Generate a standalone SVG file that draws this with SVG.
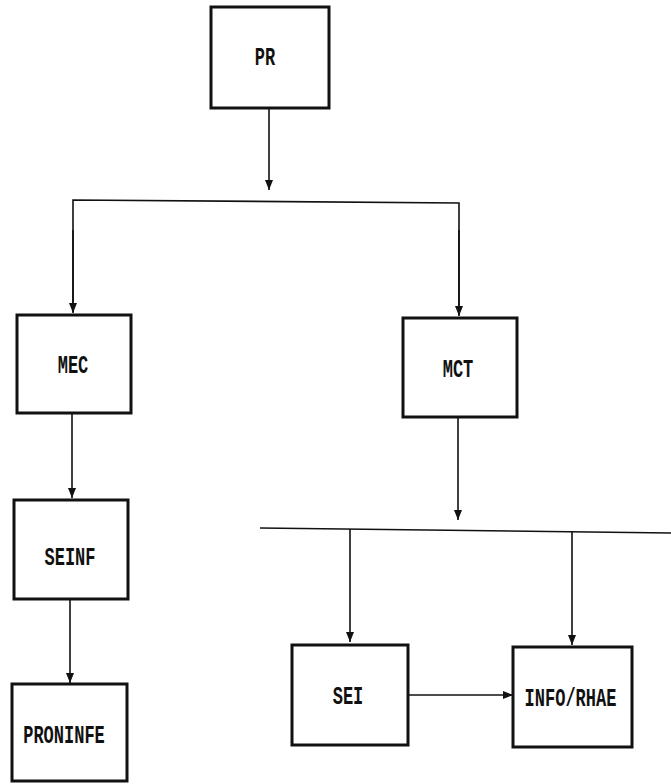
<svg xmlns="http://www.w3.org/2000/svg" width="671" height="784" viewBox="0 0 671 784">
<defs>
<style>
.box{fill:#fff;stroke:#111;stroke-width:3}
.lbl{font-family:"Liberation Mono",monospace;font-weight:bold;font-size:17px;fill:#111;text-anchor:middle}
.con{stroke:#111;stroke-width:1.6;fill:none}
.arr{marker-end:url(#ah)}
</style>
<marker id="ah" markerUnits="userSpaceOnUse" markerWidth="10" markerHeight="12" viewBox="0 0 10 12" refX="10" refY="5" orient="auto">
<path d="M0,1 L10,5 L0,9 Z" fill="#111"/>
</marker>
</defs>
<rect width="671" height="784" fill="#fff"/>
<g id="connectors">
<line class="con arr" x1="269" y1="108" x2="269" y2="190"/>
<polyline class="con" points="73,312 73,200 459,203 459,315"/>
<line class="con arr" x1="73" y1="230" x2="73" y2="313"/>
<line class="con arr" x1="459" y1="230" x2="459" y2="316"/>
<line class="con arr" x1="72" y1="413" x2="72" y2="498"/>
<line class="con arr" x1="70" y1="599" x2="70" y2="683"/>
<line class="con arr" x1="458" y1="417" x2="458" y2="520"/>
<line class="con" x1="260" y1="528" x2="671" y2="533"/>
<line class="con arr" x1="350" y1="529" x2="350" y2="642"/>
<line class="con arr" x1="572" y1="531" x2="572" y2="645"/>
<line class="con arr" x1="408" y1="695" x2="513" y2="695"/>
</g>
<g id="PR"><rect class="box" x="211" y="7" width="118" height="101"/><text class="lbl" transform="translate(265,64.5) scale(1,1.5)">PR</text></g>
<g id="MEC"><rect class="box" x="17" y="315" width="114" height="98"/><text class="lbl" transform="translate(73,373) scale(1,1.5)">MEC</text></g>
<g id="SEINF"><rect class="box" x="14" y="500" width="114" height="99"/><text class="lbl" transform="translate(70,564.5) scale(1,1.5)">SEINF</text></g>
<g id="PRONINFE"><rect class="box" x="12" y="684" width="115" height="97"/><text class="lbl" transform="translate(64,742.5) scale(1,1.5)">PRONINFE</text></g>
<g id="MCT"><rect class="box" x="403" y="318" width="114" height="99"/><text class="lbl" transform="translate(458,376.5) scale(1,1.5)">MCT</text></g>
<g id="SEI"><rect class="box" x="292" y="645" width="116" height="100"/><text class="lbl" transform="translate(348,704) scale(1,1.5)">SEI</text></g>
<g id="INFO_RHAE"><rect class="box" x="513" y="647" width="119" height="100"/><text class="lbl" transform="translate(570.5,705.5) scale(1,1.5)">INFO/RHAE</text></g>
</svg>
